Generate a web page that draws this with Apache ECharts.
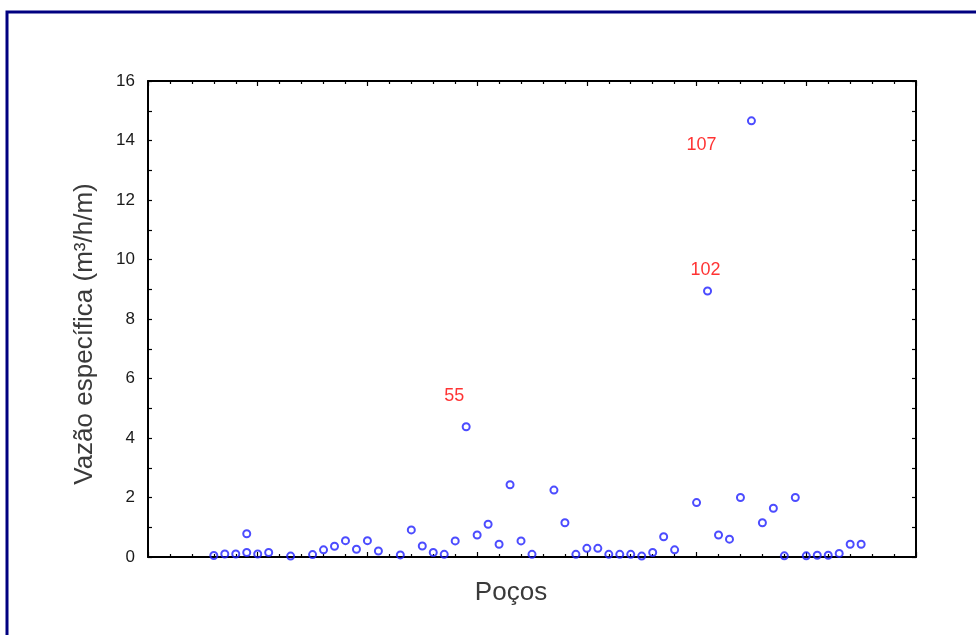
<!DOCTYPE html>
<html>
<head>
<meta charset="utf-8">
<script src="https://cdn.jsdelivr.net/npm/echarts@6/dist/echarts.min.js"></script>
<style>
html,body{margin:0;padding:0;background:#fff;}
#c{width:976px;height:635px;}
</style>
</head>
<body>
<div id="c"></div>
<script>
// Case positions (x) and specific capacity values (m3/h/m)
const xPos = [6,7,8,9,9,10,11,13,15,16,17,18,19,20,21,23,24,25,26,27,28,29,30,31,32,33,34,35,37,38,39,40,41,42,43,44,45,46,47,48,50,51,52,53,54,55,56,57,58,59,60,61,62,63,64,65];
const vazao = [0.05,0.1,0.1,0.78,0.15,0.1,0.15,0.03,0.08,0.24,0.36,0.55,0.26,0.55,0.2,0.07,0.91,0.37,0.15,0.09,0.54,4.38,0.74,1.1,0.43,2.43,0.54,0.09,2.25,1.15,0.09,0.29,0.29,0.09,0.09,0.09,0.03,0.15,0.68,0.24,1.83,8.94,0.74,0.6,2.0,14.66,1.15,1.64,0.04,2.0,0.04,0.06,0.06,0.12,0.43,0.43];
// Well labels shown next to outliers: position in the list -> label
const labelIdx = [21, 41, 45];
const labelTxt = ['55', '102', '107'];
const labelOff = [[-12,-31],[-2,-21],[-50,24]];
const yTicks = [0,2,4,6,8,10,12,14,16];

const FONT = 'Liberation Sans, Arial, sans-serif';
const data = xPos.map((x, i) => {
  const k = labelIdx.indexOf(i);
  const item = { value: [x, vazao[i]] };
  if (k >= 0) {
    item.label = {
      show: true, position: 'inside', formatter: labelTxt[k], offset: labelOff[k],
      color: '#ff0000', fontSize: 18, fontFamily: FONT
    };
  }
  return item;
});

const chart = echarts.init(document.getElementById('c'), null, {renderer: 'canvas'});
const axisLine = {show: true, onZero: false, lineStyle: {color: '#000', width: 2}};
const baseX = {
  type: 'value', min: 0, max: 70, interval: 10,
  axisLine: axisLine,
  axisTick: {show: true, inside: true, length: 5, lineStyle: {color: '#000', width: 1.2}},
  minorTick: {show: true, splitNumber: 5, length: 3, lineStyle: {color: '#000', width: 1.2}},
  axisLabel: {show: false}, splitLine: {show: false}
};
const baseY = {
  type: 'value', min: yTicks[0], max: yTicks[yTicks.length-1], interval: 2,
  axisLine: axisLine,
  axisTick: {show: true, inside: true, length: 4, lineStyle: {color: '#000', width: 1.2}},
  minorTick: {show: true, splitNumber: 2, length: 4, lineStyle: {color: '#000', width: 1.2}},
  splitLine: {show: false}
};
chart.setOption({
  animation: false,
  backgroundColor: '#fff',
  grid: {left: 148, top: 81, right: 60, bottom: 78},
  graphic: [{
    type: 'rect', shape: {x: 7, y: 12, width: 1100, height: 800},
    style: {fill: 'none', stroke: '#000080', lineWidth: 3}, silent: true
  }],
  xAxis: [
    Object.assign({}, baseX, {
      position: 'bottom', name: 'Poços', nameLocation: 'middle', nameGap: 23,
      nameTextStyle: {color: '#3a3a3a', fontSize: 26, fontFamily: FONT, padding: [0, 42, 0, 0]}
    }),
    Object.assign({}, baseX, {position: 'top'})
  ],
  yAxis: [
    Object.assign({}, baseY, {
      position: 'left', name: 'Vazão específica (m³/h/m)', nameLocation: 'middle', nameGap: 50,
      nameTextStyle: {color: '#3a3a3a', fontSize: 26, fontFamily: FONT, padding: [0, 30, 0, 0]},
      axisLabel: {show: true, margin: 13, color: '#1a1a1a', fontSize: 17, fontFamily: FONT}
    }),
    Object.assign({}, baseY, {position: 'right', axisLabel: {show: false}})
  ],
  series: [{
    type: 'scatter', xAxisIndex: 0, yAxisIndex: 0,
    symbol: 'circle', symbolSize: 7,
    itemStyle: {color: 'rgba(0,0,0,0)', borderColor: '#1f1fff', borderWidth: 2},
    data: data
  }]
});
</script>
</body>
</html>
